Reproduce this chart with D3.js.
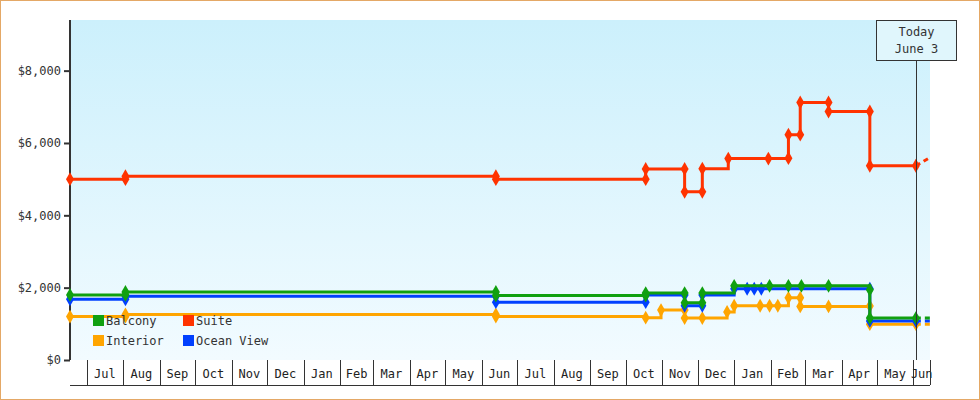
<!DOCTYPE html>
<html><head><meta charset="utf-8">
<script src="https://cdn.jsdelivr.net/npm/d3@7"></script>
<style>body{margin:0;background:#fff}text{font-family:"DejaVu Sans Mono",monospace}</style>
</head><body><svg id="chart" width="980" height="400"></svg>
<script>
// price history, step changes
const suiteDates = ['2014-06-17','2014-08-03','2014-08-03','2015-06-13','2015-06-13','2015-10-18','2015-10-18','2015-11-20','2015-11-20','2015-12-05','2015-12-05','2015-12-27','2016-01-30','2016-02-16','2016-02-16','2016-02-26','2016-02-26','2016-03-21','2016-03-21','2016-04-25','2016-04-25','2016-06-03']
const suiteValues = [5000,5000,5080,5080,5000,5000,5280,5280,4650,4650,5290,5570,5570,5580,6230,6230,7120,7120,6870,6870,5370,5370]
const balconyDates = ['2014-06-17','2014-08-03','2014-08-03','2015-06-13','2015-06-13','2015-10-18','2015-10-18','2015-11-20','2015-11-20','2015-12-05','2015-12-05','2016-01-01','2016-01-31','2016-02-16','2016-02-27','2016-03-21','2016-04-25','2016-04-25','2016-06-03']
const balconyValues = [1800,1800,1880,1880,1780,1780,1850,1850,1580,1580,1850,2050,2050,2050,2050,2050,1940,1160,1160]
const oceanDates = ['2014-06-17','2014-08-03','2014-08-03','2015-06-13','2015-06-13','2015-10-18','2015-10-18','2015-11-20','2015-11-20','2015-12-05','2015-12-05','2016-01-01','2016-01-12','2016-01-18','2016-01-24','2016-04-25','2016-04-25','2016-06-03']
const oceanValues = [1680,1680,1760,1760,1600,1600,1800,1800,1500,1500,1800,1970,1970,1970,1970,1970,1080,1080]
const interiorDates = ['2014-06-17','2014-08-03','2014-08-03','2015-06-13','2015-06-13','2015-10-18','2015-10-31','2015-11-20','2015-11-20','2015-12-05','2015-12-26','2016-01-01','2016-01-23','2016-01-31','2016-02-07','2016-02-16','2016-02-26','2016-02-26','2016-03-21','2016-04-25','2016-04-25','2016-06-03']
const interiorValues = [1200,1200,1260,1260,1200,1170,1380,1380,1160,1160,1330,1500,1500,1500,1500,1720,1720,1480,1480,1490,990,990]
const forecastEnd = '2016-06-15'
const forecast = { Suite: 5600, Balcony: 1160, 'Ocean View': 1080, Interior: 990 }

const series = [
  { name: 'Interior', color: '#ffa500', dates: interiorDates, values: interiorValues },
  { name: 'Ocean View', color: '#0040ff', dates: oceanDates, values: oceanValues },
  { name: 'Balcony', color: '#10a010', dates: balconyDates, values: balconyValues },
  { name: 'Suite', color: '#ff3300', dates: suiteDates, values: suiteValues }
]
const legendOrder = ['Balcony', 'Suite', 'Interior', 'Ocean View']
const yTicks = [0, 2000, 4000, 6000, 8000]
const todayDate = '2016-06-03'

const parse = d3.timeParse('%Y-%m-%d')
const svg = d3.select('#chart')
const pLeft = 70, pRight = 930, pTop = 20, pBottom = 360

const x = d3.scaleTime().domain([parse('2014-06-17'), parse(forecastEnd)]).range([pLeft, pRight])
const y = d3.scaleLinear().domain([0, 9400]).range([pBottom, pTop])

const defs = svg.append('defs')
const grad = defs.append('linearGradient').attr('id', 'bg').attr('x1', 0).attr('y1', 0).attr('x2', 0).attr('y2', 1)
grad.append('stop').attr('offset', '0%').attr('stop-color', '#ccf0fc')
grad.append('stop').attr('offset', '100%').attr('stop-color', '#f2fbff')

svg.append('rect').attr('x', 0.5).attr('y', 0.5).attr('width', 979).attr('height', 399)
  .attr('fill', '#fff').attr('stroke', '#e4a866')
svg.append('rect').attr('x', pLeft).attr('y', pTop).attr('width', pRight - pLeft).attr('height', pBottom - pTop)
  .attr('fill', 'url(#bg)')

// y axis
const yAxis = svg.append('g').attr('transform', `translate(${pLeft},0)`)
  .call(d3.axisLeft(y).tickValues(yTicks).tickSize(6).tickFormat(d => '$' + d3.format(',')(d)))
yAxis.select('.domain').attr('stroke', '#333').attr('stroke-width', 2).attr('d', `M0,${pTop}V${pBottom}`)
yAxis.selectAll('.tick line').attr('stroke', '#333').attr('stroke-width', 2)
yAxis.selectAll('text').attr('font-size', 12).attr('fill', '#333')

// month cells
const months = d3.timeMonth.range(d3.timeMonth.ceil(x.domain()[0]), x.domain()[1])
const mg = svg.append('g')
mg.append('line').attr('x1', pLeft).attr('x2', pRight).attr('y1', 385.5).attr('y2', 385.5).attr('stroke', '#333')
mg.selectAll('line.m').data(months).enter().append('line').attr('class', 'm')
  .attr('x1', d => Math.round(x(d)) + 0.5).attr('x2', d => Math.round(x(d)) + 0.5)
  .attr('y1', pBottom).attr('y2', 385).attr('stroke', '#333')
mg.selectAll('text').data(months).enter().append('text')
  .attr('x', d => (x(d) + Math.min(pRight, x(d3.timeMonth.offset(d, 1)))) / 2).attr('y', 378)
  .attr('text-anchor', 'middle').attr('font-size', 12).attr('fill', '#222')
  .text(d3.timeFormat('%b'))
mg.append('line').attr('x1', pRight + 0.5).attr('x2', pRight + 0.5).attr('y1', pBottom).attr('y2', 385).attr('stroke', '#333')

// lines
const line = d3.line().curve(d3.curveStepAfter).x(d => x(d.date)).y(d => y(d.value))
series.forEach(s => {
  const pts = s.dates.map((d, i) => ({ date: parse(d), value: s.values[i] }))
  const last = pts[pts.length - 1]
  svg.append('path').datum(pts).attr('d', line).attr('fill', 'none')
    .attr('stroke', s.color).attr('stroke-width', 3)
  svg.append('line').attr('x1', x(last.date)).attr('y1', y(last.value))
    .attr('x2', x(parse(forecastEnd))).attr('y2', y(forecast[s.name]))
    .attr('stroke', s.color).attr('stroke-width', 3).attr('stroke-dasharray', '5,4')
  svg.selectAll(null).data(pts).enter().append('path')
    .attr('transform', d => `translate(${x(d.date)},${y(d.value)})`)
    .attr('d', d3.symbol(d3.symbolDiamond, 55)).attr('fill', s.color)
})

// legend
const lg = svg.append('g')
legendOrder.forEach((n, i) => {
  const s = series.find(e => e.name === n)
  const lx = 93 + (i % 2) * 90, ly = 315 + Math.floor(i / 2) * 20
  lg.append('rect').attr('x', lx).attr('y', ly).attr('width', 11).attr('height', 11).attr('fill', s.color)
  lg.append('text').attr('x', lx + 13).attr('y', ly + 10).attr('font-size', 12).attr('fill', '#333').text(n)
})

// today marker
const tx = Math.round(x(parse(todayDate))) + 0.5
svg.append('line').attr('x1', tx).attr('x2', tx).attr('y1', 60).attr('y2', pBottom).attr('stroke', '#333')
svg.append('rect').attr('x', tx - 40).attr('y', 20.5).attr('width', 80).attr('height', 40)
  .attr('fill', '#e0f6fc').attr('stroke', '#333')
svg.append('text').attr('x', tx).attr('y', 36).attr('text-anchor', 'middle').attr('font-size', 12).attr('fill', '#333').text('Today')
svg.append('text').attr('x', tx).attr('y', 53).attr('text-anchor', 'middle').attr('font-size', 12).attr('fill', '#333').text('June 3')
</script></body></html>
